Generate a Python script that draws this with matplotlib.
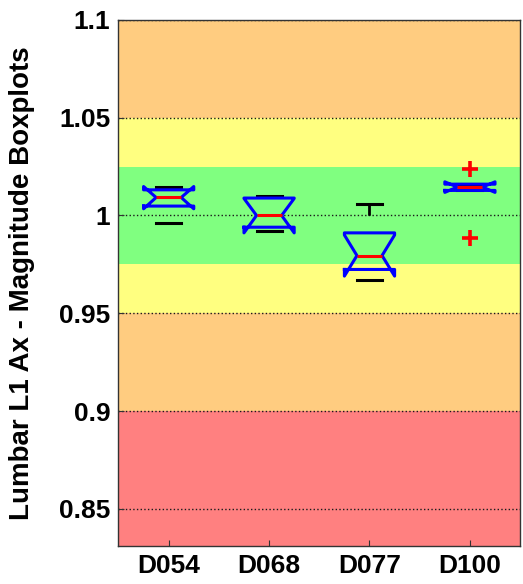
import matplotlib.pyplot as plt
import numpy as np
from matplotlib.ticker import FuncFormatter

plt.rcParams['font.family'] = ['Liberation Sans', 'DejaVu Sans']
plt.rcParams['font.weight'] = 'bold'

names = ["D054", "D068", "D077", "D100"]
med = [1.0092, 1.0000, 0.9795, 1.0145]
q1 = [1.0048, 0.9940, 0.9724, 1.0128]
q3 = [1.0131, 1.0089, 0.9911, 1.0160]
whislo = [0.9961, 0.9921, 0.9669, 1.0128]
whishi = [1.0145, 1.0099, 1.0060, 1.0160]
cilo = [1.0034, 0.9911, 0.9690, 1.0118]
cihi = [1.0148, 1.0087, 0.9900, 1.0172]
fliers = [[], [], [], [0.9886, 1.0239]]

# background bands (low, high, colour)
band_lo = [0.80, 0.90, 0.95, 0.975, 1.025, 1.05]
band_hi = [0.90, 0.95, 0.975, 1.025, 1.05, 1.15]
band_col = ['#FF8080', '#FFCC80', '#FFFF80', '#80FF80', '#FFFF80', '#FFCC80']

yticks = [0.85, 0.9, 0.95, 1.0, 1.05, 1.1]

stats = []
for i in range(len(names)):
    stats.append(dict(label=names[i], med=med[i], q1=q1[i], q3=q3[i],
                      whislo=whislo[i], whishi=whishi[i],
                      cilo=cilo[i], cihi=cihi[i], fliers=fliers[i]))

fig = plt.figure(figsize=(5.23, 5.84), dpi=100)
ax = fig.add_axes([0.2265, 0.065, 0.768, 0.901])

for lo, hi, c in zip(band_lo, band_hi, band_col):
    ax.axhspan(lo, hi, color=c, zorder=0, lw=0)

# box over the caps, as matlab draws it
ax.bxp(stats, positions=[1, 2, 3, 4], widths=0.5, shownotches=True,
       boxprops=dict(color='blue', lw=2.2, zorder=2.6),
       medianprops=dict(color='red', lw=2.2, zorder=2.7),
       whiskerprops=dict(color='black', lw=2, linestyle=(4.4, (4.4, 6.4)), zorder=2),
       capprops=dict(color='black', lw=2.2, zorder=2),
       flierprops=dict(marker='+', markeredgecolor='red', markersize=11,
                       markeredgewidth=2.6, linestyle='none', zorder=2.8))

ax.set_xlim(0.5, 4.5)
ax.set_ylim(0.831, 1.1)
ax.set_yticks(yticks)
ax.yaxis.set_major_formatter(FuncFormatter(lambda v, p: '%g' % round(v, 3)))
ax.set_axisbelow(True)
ax.yaxis.grid(True, linestyle=':', color='0.1', lw=1)
ax.xaxis.grid(False)
ax.tick_params(direction='in', length=4, labelsize=19, pad=6, color='0.2')
for s in ax.spines.values():
    s.set_color('0.2')
    s.set_linewidth(1)
ax.set_ylabel("Lumbar L1 Ax - Magnitude Boxplots", fontsize=20, fontweight='bold')
ax.yaxis.set_label_coords(-0.207, 0.5)

fig.savefig("out.png", dpi=100)
